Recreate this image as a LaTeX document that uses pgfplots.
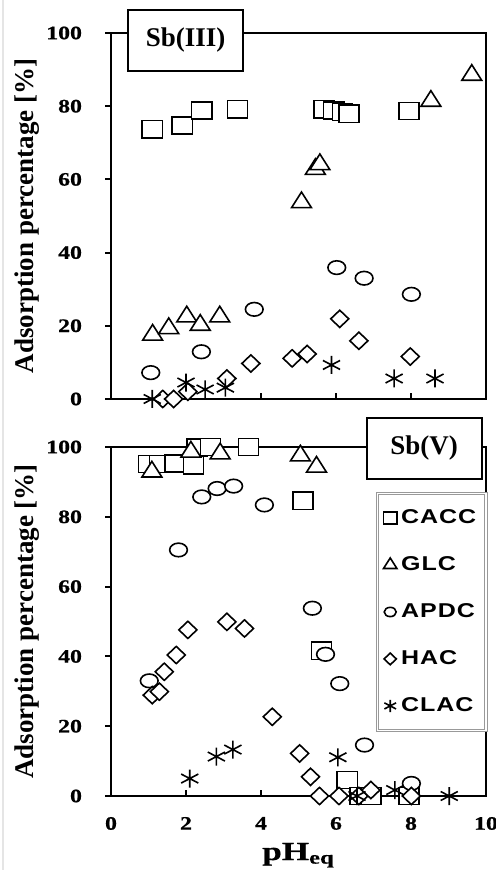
\documentclass[border=0pt]{standalone}
\usepackage{fontspec}
\setmainfont{Liberation Serif}
\newfontfamily\tickfont[BoldFeatures={FakeStretch=1.25, FakeBold=0.8}]{Liberation Serif}
\newfontfamily\xlabfont[BoldFeatures={FakeStretch=1.35, FakeBold=0.6}]{Liberation Serif}
\newfontfamily\legfont[BoldFeatures={FakeStretch=1.25, LetterSpace=5}]{Liberation Sans}
\usepackage{pgfplots}
\pgfplotsset{compat=1.18}

\tikzset{
  labelbox/.style={draw, line width=1pt, fill=white, minimum width=57.5pt,
    minimum height=30.5pt, inner sep=0pt,
    font={\bfseries\fontsize{13.5}{13.5}\selectfont}},
}
\pgfplotsset{
  panel/.style={
    scale only axis, width=187.5pt,
    xmin=0, xmax=10, ymin=0, ymax=100,
    clip=false,
    axis line style={line width=1.3pt},
    xtick={0,2,...,10}, ytick={0,20,...,100},
    xtick pos=left, ytick pos=left,
    tick align=inside, major tick length=3pt,
    tick style={black, line width=1pt},
    ytick style={xshift=-3pt},
    tick label style={font={\tickfont\bfseries\fontsize{9.5}{9.5}\selectfont},
      /pgf/number format/assume math mode=true},
    yticklabel style={xshift=-11pt},
    xticklabel style={yshift=-7pt},
    ylabel={Adsorption percentage [\%]},
    ylabel style={at={(axis description cs:0,0.5)}, anchor=center, yshift=42pt,
      font={\bfseries\fontsize{13.5}{13.5}\selectfont}},
  },
  sCACC/.style={black, only marks, mark=square*, mark size=4.3pt,
    mark options={xscale=1.17, line width=0.8pt, draw=black, fill=white}},
  sGLC/.style={black, only marks, mark=triangle*, mark size=5.2pt,
    mark options={xscale=1.1, line width=0.8pt, draw=black, fill=white}},
  sAPDC/.style={black, only marks, mark=*, mark size=3.4pt,
    mark options={xscale=1.3, line width=0.8pt, draw=black, fill=white}},
  sHAC/.style={black, only marks, mark=diamond*, mark size=4.3pt,
    mark options={xscale=1.4, line width=0.8pt, draw=black, fill=white}},
  sCLAC/.style={black, only marks, mark=asterisk, mark size=4.5pt,
    mark options={xscale=1.1, line width=0.8pt, draw=black}},
}

\begin{document}
\begin{tikzpicture}
\useasboundingbox (0,0) rectangle (248pt,435pt);
\draw[gray!20, line width=1pt] (1.7pt,0) -- (1.7pt,435pt);

% Sb(III)
\begin{axis}[panel, at={(55.5pt,235.5pt)}, anchor=south west, height=183pt,
  xticklabels={}]
\addplot[sCACC] coordinates {
  (1.1,73.7) (1.9,74.7) (2.42,78.8) (3.37,79.2) (5.68,79.2)
  (5.94,78.8) (6.17,78.4) (6.35,77.9) (7.95,78.7)};
\addplot[sGLC] coordinates {
  (1.11,17.5) (1.54,19.3) (2.02,22.5) (2.38,20.2) (2.9,22.5)
  (5.08,53.7) (5.45,62.8) (5.57,64.1) (8.53,81.4) (9.62,88.5)};
\addplot[sAPDC] coordinates {
  (1.06,7.2) (2.41,12.9) (3.82,24.5) (6.02,35.9) (6.75,33.0) (8.01,28.6)};
\addplot[sHAC] coordinates {
  (1.38,0) (1.67,0) (2.05,2.0) (3.09,5.6) (3.73,9.7) (4.83,11.1)
  (5.23,12.3) (6.1,21.9) (6.61,15.9) (7.98,11.6)};
\addplot[sCLAC] coordinates {
  (1.1,0) (2.0,4.5) (2.51,2.6) (3.05,3.1) (5.88,9.3) (7.55,5.6) (8.64,5.6)};
\node[labelbox] at (rel axis cs:0.199,0.9795) {Sb(III)};
\end{axis}

% Sb(V)
\begin{axis}[panel, at={(55.5pt,37pt)}, anchor=south west, height=174.5pt,
  xlabel={pH\textsubscript{eq}},
  xlabel style={at={(axis description cs:0.5,0)}, anchor=base, yshift=-32pt,
    font={\xlabfont\bfseries\fontsize{13}{13}\selectfont}},
  legend cell align=left,
  legend image code/.code={\draw[#1, every mark/.append style={scale=0.68}]
    plot coordinates {(0cm,0cm)};},
  legend style={at={(rel axis cs:0.709,0.868)}, anchor=north west,
    draw=gray!80, double=white, double distance=0.8pt, line width=0.5pt,
    inner xsep=3pt, inner ysep=6pt, row sep=11pt,
    font={\legfont\bfseries\fontsize{10}{10}\selectfont}},
  ]
\addplot[sCACC] coordinates {
  (1.0,95.1) (1.29,95.1) (1.71,95.3) (2.2,94.8) (2.29,99.9) (2.65,100)
  (3.67,100) (5.12,84.6) (5.61,41.6) (6.3,4.6) (6.64,0) (6.93,0) (7.95,0)};
\addlegendentry{CACC}
\addplot[sGLC] coordinates {
  (1.09,92.9) (2.13,98.6) (2.91,98.1) (5.05,97.5) (5.48,94.3)};
\addlegendentry{GLC}
\addplot[sAPDC] coordinates {
  (1.02,33.0) (1.8,70.5) (2.42,85.7) (2.83,88.1) (3.27,88.8) (4.09,83.4)
  (5.37,53.8) (5.72,40.6) (6.1,32.2) (6.76,14.6) (8.01,3.6)};
\addlegendentry{APDC}
\addplot[sHAC] coordinates {
  (1.1,28.9) (1.29,29.9) (1.42,35.6) (1.74,40.4) (2.05,47.6) (3.09,49.9)
  (3.56,48.0) (4.3,22.7) (5.03,12.2) (5.32,5.5) (5.56,0) (6.08,0)
  (6.61,0) (6.93,1.7) (8.01,0)};
\addlegendentry{HAC}
\addplot[sCLAC] coordinates {
  (2.1,5.0) (2.81,11.3) (3.25,13.3) (6.05,11.1) (6.56,0) (7.57,1.7) (9.02,0)};
\addlegendentry{CLAC}
\node[labelbox] at (rel axis cs:0.835,0.9957) {Sb(V)};
\end{axis}
\end{tikzpicture}
\end{document}
